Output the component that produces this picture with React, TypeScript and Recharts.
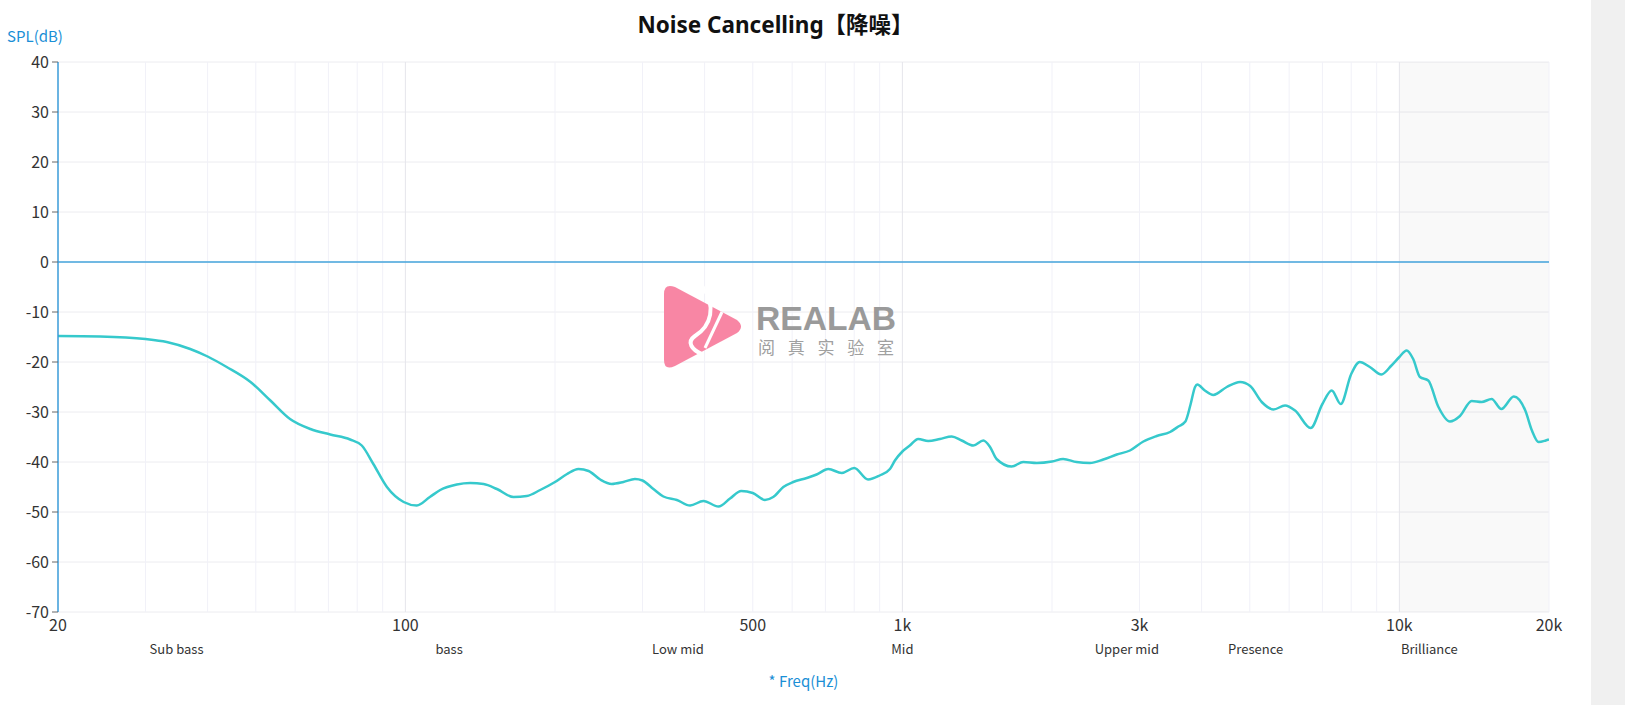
import { CartesianGrid, Label, Line, LineChart, ReferenceArea, ReferenceLine, XAxis, YAxis } from "recharts";

// frequency response (Hz / dB)
const freqs = [
  20, 24.3, 30, 33.1, 36.9, 40, 43.7, 48.8, 53.5, 58.6, 64.4, 70.6, 77.4, 81.7, 86.2, 91.8, 99.2, 105.4, 112,
  117.5, 126.9, 135, 143.7, 152.8, 165, 175.5, 186.7, 200, 211.5, 223, 233.7, 246.6, 260, 274.6, 289.7, 300,
  315.5, 330.5, 351.7, 374, 397.8, 426.6, 450, 474, 500, 529, 549.6, 576, 603, 642, 672, 709.6, 755, 800, 853,
  900, 944, 966, 1000, 1035, 1076, 1127, 1190, 1257, 1316, 1389, 1455, 1501, 1547, 1659, 1751, 1864, 2000,
  2106, 2241, 2384, 2537, 2700, 2870, 3054, 3249, 3456, 3592, 3710, 3800, 3880, 3920, 4060, 4223, 4494, 4780,
  5010, 5285, 5580, 5887, 6168, 6630, 7000, 7310, 7620, 8000, 8320, 8720, 9200, 9640, 10000, 10340, 10660,
  11000, 11430, 11970, 12640, 13240, 13980, 14640, 15330, 16040, 16990, 17920, 18480, 19060, 19700, 20000,
];
const spl = [
  -14.8, -14.9, -15.4, -16.0, -17.4, -18.9, -21.0, -24.0, -27.7, -31.4, -33.4, -34.5, -35.5, -36.7, -40.4, -45.0,
  -48.0, -48.7, -47.0, -45.6, -44.5, -44.2, -44.4, -45.4, -47.0, -46.8, -45.6, -44.0, -42.4, -41.4, -41.8, -43.5,
  -44.4, -44.0, -43.4, -43.7, -45.4, -46.9, -47.6, -48.7, -47.8, -48.9, -47.3, -45.8, -46.2, -47.6, -47.0, -45.0,
  -44.0, -43.2, -42.5, -41.4, -42.2, -41.2, -43.5, -42.7, -41.4, -39.7, -37.9, -36.7, -35.4, -35.8, -35.4, -34.9,
  -35.7, -36.7, -35.7, -37.0, -39.4, -40.9, -40.0, -40.2, -39.9, -39.4, -40.0, -40.2, -39.5, -38.5, -37.7, -35.9,
  -34.8, -34.0, -32.9, -31.9, -28.5, -25.0, -24.5, -25.7, -26.6, -25.0, -24.0, -24.8, -28.0, -29.5, -28.7, -29.7,
  -33.2, -28.4, -25.7, -28.4, -22.4, -20.0, -21.0, -22.5, -20.7, -19.0, -17.7, -19.4, -23.0, -23.7, -28.9, -31.9,
  -30.8, -27.8, -28.0, -27.4, -29.4, -26.9, -29.7, -33.7, -36.0, -35.7, -35.5,
];

const freqTicks = [20, 100, 500, 1000, 3000, 10000, 20000];
const splTicks = [40, 30, 20, 10, 0, -10, -20, -30, -40, -50, -60, -70];
const bandNames = ["Sub bass", "bass", "Low mid", "Mid", "Upper mid", "Presence", "Brilliance"];
const bandEdges = [20, 60, 250, 500, 2000, 4000, 6600, 20000];
const majorGrid = [100, 1000, 10000];
const minorGrid = [
  30, 40, 50, 60, 70, 80, 90, 200, 300, 400, 500, 600, 700, 800, 900, 2000, 3000, 4000, 5000, 6000, 7000, 8000,
  9000, 20000,
];

const data = freqs.map((f, i) => ({ f, spl: spl[i] }));
const bandCenters = bandNames.map((_, i) => Math.sqrt(bandEdges[i] * bandEdges[i + 1]));

const fmtFreq = (v: number) => (v >= 1000 ? `${v / 1000}k` : `${v}`);
// nearest band centre on a log scale
const fmtBand = (v: number) => {
  let best = 0;
  bandCenters.forEach((c, i) => {
    if (Math.abs(Math.log(c / v)) < Math.abs(Math.log(bandCenters[best] / v))) best = i;
  });
  return bandNames[best];
};

const font = "'Noto Sans CJK SC', 'Noto Sans', sans-serif";

function Watermark() {
  return (
    <svg width={260} height={100} style={{ position: "absolute", left: 655, top: 278 }}>
      <path d="M 9 16 Q 9 5 20 9 L 82 42 Q 90 48.5 82 55 L 20 88 Q 9 93 9 82 Z" fill="#f8809f" opacity={0.95} />
      <path d="M 47 8 C 62 28 56 48 40 58 C 31 64 37 72 47 76" stroke="#fff" strokeWidth={4} fill="none" />
      <path d="M 67 34 L 50 70" stroke="#fff" strokeWidth={3} fill="none" />
      <text x={101} y={52} fontFamily="'Liberation Sans', sans-serif" fontWeight="bold" fontSize={34}
        fill="#9a9a9a" textLength={140} lengthAdjust="spacingAndGlyphs">
        REALAB
      </text>
      <text x={103} y={76} fontFamily={font} fontSize={17} fill="#a0a0a0" textLength={136} lengthAdjust="spacing">
        阅真实验室
      </text>
    </svg>
  );
}

export default function App() {
  return (
    <div style={{ position: "relative", width: 1625, height: 705, background: "#fff", fontFamily: font, overflow: "hidden" }}>
      <style>{"body{margin:0}"}</style>
      <div
        style={{
          position: "absolute", left: 0, top: 11, width: 1551, textAlign: "center", fontSize: 22.5, lineHeight: "27px",
          fontWeight: 700, color: "#111", fontFamily: "'Noto Sans', 'Noto Sans CJK SC', sans-serif",
        }}
      >
        Noise Cancelling【降噪】
      </div>
      <div style={{ position: "absolute", left: 1591, top: 0, width: 34, height: 705, background: "#f0f0f0" }} />
      <LineChart width={1591} height={705} data={data} margin={{ top: 62, right: 42, bottom: 38, left: 0 }}>
        <ReferenceArea x1={10000} x2={20000} fill="#000" fillOpacity={0.025} stroke="none" />
        <CartesianGrid vertical={false} stroke="#ececf0" />
        {minorGrid.map((f) => (
          <ReferenceLine key={f} x={f} stroke="#f1f1f8" />
        ))}
        {majorGrid.map((f) => (
          <ReferenceLine key={f} x={f} stroke="#e5e5eb" />
        ))}
        <ReferenceLine y={0} stroke="#45a5dd" strokeWidth={1.5} />
        <XAxis
          dataKey="f" type="number" scale="log" domain={[20, 20000]} ticks={freqTicks} tickFormatter={fmtFreq}
          axisLine={false} tickLine={false} height={25} interval={0} allowDataOverflow
          tick={{ fontSize: 16, fill: "#333", fontFamily: font }}
        />
        <XAxis
          xAxisId="band" dataKey="f" type="number" scale="log" domain={[20, 20000]} ticks={bandCenters}
          tickFormatter={fmtBand} axisLine={false} tickLine={false} height={30} interval={0} allowDataOverflow
          tick={{ fontSize: 13, fill: "#333", fontFamily: font }}
        >
          <Label value="* Freq(Hz)" position="bottom" offset={9} fill="#1a8fd6" fontSize={15} fontFamily={font} />
        </XAxis>
        <YAxis
          type="number" domain={[-70, 40]} ticks={splTicks} width={58} interval={0} tickMargin={3}
          axisLine={{ stroke: "#3a9bd8", strokeWidth: 1.5 }} tickLine={{ stroke: "#666" }}
          tick={{ fontSize: 16, fill: "#333", fontFamily: font }}
        >
          <Label value="SPL(dB)" position="top" offset={20} dx={6} fill="#1a8fd6" fontSize={15} fontFamily={font} />
        </YAxis>
        {/* invisible twin so the band axis has a series of its own */}
        <Line xAxisId="band" dataKey="spl" stroke="none" dot={false} activeDot={false} isAnimationActive={false} />
        <Line dataKey="spl" type="monotone" stroke="#36c9cc" strokeWidth={2.5} dot={false} isAnimationActive={false} />
      </LineChart>
      <Watermark />
    </div>
  );
}
